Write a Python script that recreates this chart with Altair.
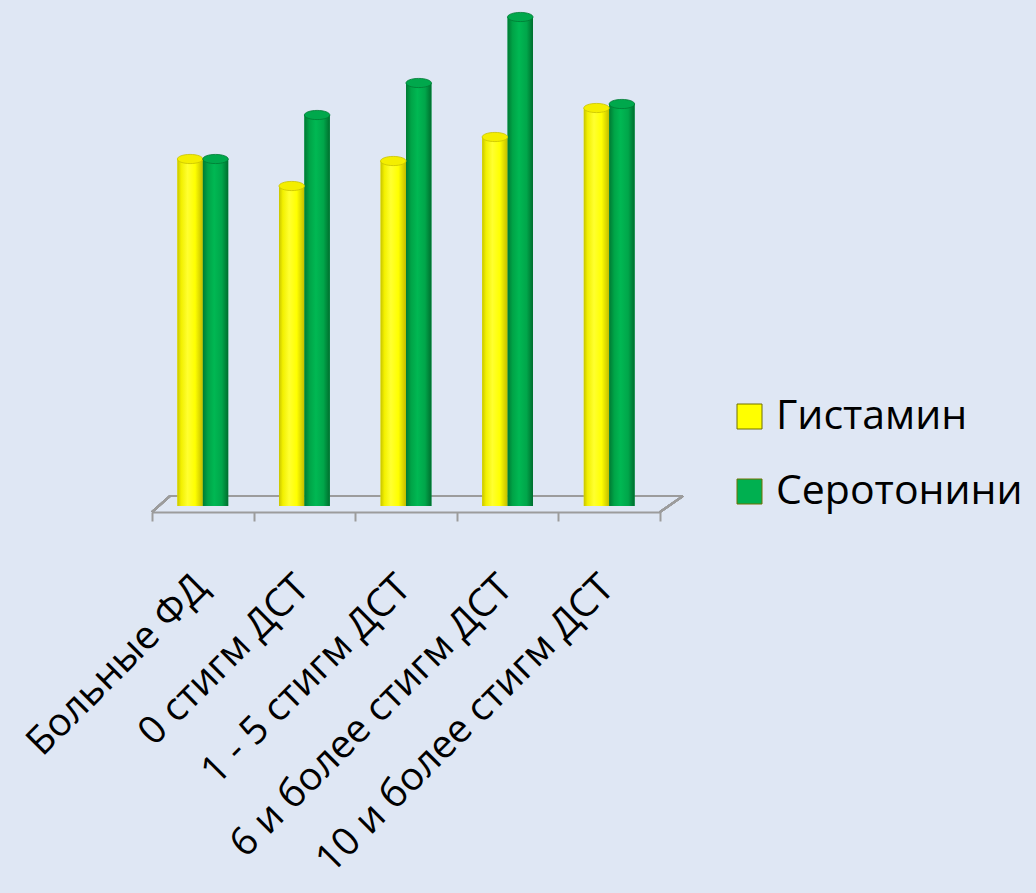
import altair as alt
import pandas as pd

categories = ["Больные ФД", "0 стигм ДСТ", "1 - 5 стигм ДСТ", "6 и более стигм ДСТ", "10 и более стигм ДСТ"]
series = ["Гистамин", "Серотонини"]
histamine = [347, 320, 345, 369, 398]
serotonin = [347, 391, 423, 489, 402]
colors = ["#ffff00", "#00b050"]
cap_colors = ["#f4ee00", "#00a84c"]

rows = []
for c, h, s in zip(categories, histamine, serotonin):
    rows.append({"group": c, "series": series[0], "value": h})
    rows.append({"group": c, "series": series[1], "value": s})
df = pd.DataFrame(rows)

FONT = "Open Sans"
FLOOR = "#9c9c9c"

x_enc = alt.X(
    "group:N", sort=categories, title=None,
    scale=alt.Scale(paddingInner=0, paddingOuter=0),
    axis=alt.Axis(
        labelAngle=315, labelAlign="right", labelBaseline="middle",
        labelFont=FONT, labelFontSize=39, labelColor="#000000",
        labelPadding=60, labelOffset=-2, tickBand="extent", tickSize=9,
        tickColor=FLOOR, tickWidth=2, domainColor=FLOOR, domainWidth=2,
        offset=6, labelLimit=0,
    ),
)
xo_enc = alt.XOffset("series:N", sort=series, scale=alt.Scale(paddingInner=0, paddingOuter=1))
y_enc = alt.Y("value:Q", scale=alt.Scale(domain=[0, 500]), axis=None)

# floor outline of the 3-D plot area (decorative frame)
floor_back = alt.Chart(df).mark_rule(color=FLOOR, strokeWidth=2).encode(
    x=alt.value(18), x2=alt.value(531), y=alt.value(490), y2=alt.value(490))
floor_left = alt.Chart(df).mark_rule(color=FLOOR, strokeWidth=2).encode(
    x=alt.value(0), x2=alt.value(18), y=alt.value(506), y2=alt.value(490))
floor_right = alt.Chart(df).mark_rule(color=FLOOR, strokeWidth=2).encode(
    x=alt.value(508), x2=alt.value(531), y=alt.value(506), y2=alt.value(490))

base = alt.Chart(df).mark_bar().encode(
    x=x_enc, xOffset=xo_enc, y=y_enc,
    color=alt.Color(
        "series:N", sort=series,
        scale=alt.Scale(domain=series, range=colors),
        legend=alt.Legend(
            title=None, orient="none", legendX=577, legendY=390,
            symbolType="square", symbolSize=625, symbolStrokeColor="#707000",
            symbolStrokeWidth=1, symbolOpacity=1,
            labelFont=FONT, labelFontSize=41, labelColor="#000000",
            labelOffset=6, rowPadding=33, padding=0, labelLimit=0,
        ),
    ),
)

def grad(stops):
    return alt.Gradient(
        gradient="linear", x1=0, x2=1, y1=0, y2=0,
        stops=[alt.GradientStop(color=c, offset=o) for o, c in stops],
    )

yellow_grad = grad([(0, "#c8c400"), (0.15, "#f2f000"), (0.4, "#ffff30"), (0.7, "#ffff00"), (1, "#c2bc00")])
green_grad = grad([(0, "#007a33"), (0.2, "#00a447"), (0.45, "#00b853"), (0.75, "#00a64a"), (1, "#006e2e")])

over_y = alt.Chart(df).transform_filter(alt.datum.series == series[0]).mark_bar(
    color=yellow_grad).encode(x=x_enc, xOffset=xo_enc, y=y_enc)
over_g = alt.Chart(df).transform_filter(alt.datum.series == series[1]).mark_bar(
    color=green_grad).encode(x=x_enc, xOffset=xo_enc, y=y_enc)

ELLIPSE = "M-1,0 A1,0.36 0 1,0 1,0 A1,0.36 0 1,0 -1,0 Z"
caps = alt.Chart(df).mark_point(
    shape=ELLIPSE, size=650, filled=True, opacity=1, strokeWidth=0.8
).encode(
    x=x_enc, xOffset=xo_enc, y=y_enc,
    fill=alt.Fill("series:N", sort=series, scale=alt.Scale(domain=series, range=cap_colors), legend=None),
    stroke=alt.Stroke("series:N", sort=series, scale=alt.Scale(domain=series, range=["#c9c300", "#007a33"]), legend=None),
)

chart = alt.layer(floor_back, floor_left, floor_right, base, over_y, over_g, caps).properties(
    width=508, height=500,
    autosize=alt.AutoSizeParams(type="none"),
    padding={"left": 152, "top": 6, "right": 376, "bottom": 387},
    background="#dfe7f4",
).resolve_scale(fill="independent", stroke="independent").configure_view(stroke=None)

chart.save("out.html", embed_options={"renderer": "svg", "actions": False})
